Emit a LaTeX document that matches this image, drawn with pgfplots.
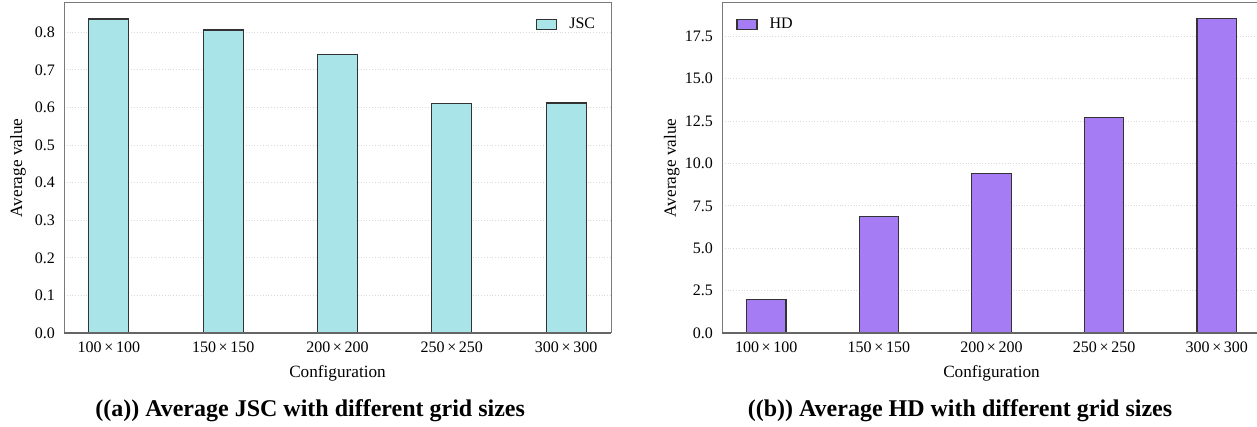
\documentclass[border=0pt]{standalone}
\usepackage{pgfplots}
\pgfplotsset{compat=1.18}
\usepackage{fontspec}
\setmainfont{Liberation Serif}
\definecolor{jsc}{HTML}{A8E4E8}
\definecolor{hd}{HTML}{A67CF5}
\definecolor{spine}{HTML}{7A7A7A}
\pgfplotsset{
  mybar/.style={
    scale only axis,
    clip=false,
    anchor=south west,
    height=165pt,
    ybar,
    bar width=0.35,
    xmin=-0.3925, xmax=4.3925,
    ymin=0,
    xtick={0,1,2,3,4},
    xticklabels={100\,×\,100,150\,×\,150,200\,×\,200,250\,×\,250,300\,×\,300},
    major tick length=0pt,
    tick label style={font=\fontsize{8}{9}\selectfont},
    /pgf/number format/assume math mode=true,
    /pgf/number format/fixed,
    /pgf/number format/fixed zerofill,
    xticklabel style={yshift=-1pt},
    yticklabel style={xshift=-1pt},
    label style={font=\fontsize{8.6}{10}\selectfont},
    xlabel={Configuration},
    ylabel={Average value},
    xlabel style={at={(axis description cs:0.5,-0.121)}, anchor=center},
    ymajorgrids,
    grid style={densely dotted, gray!30, line width=0.4pt},
    axis line style={spine, line width=0.5pt},
    legend style={draw=none, fill=none, font=\fontsize{8}{9}\selectfont, legend cell align=left},
    legend image code/.code={\draw[#1] (0pt,-2.5pt) rectangle (10pt,2.5pt); \path (14pt,0pt);},
  }
}
\begin{document}
\begin{tikzpicture}
\path[use as bounding box] (0,0) rectangle (628.5pt,213.5pt);
\begin{axis}[mybar,
  at={(32pt,47pt)}, width=273.5pt,
  ymax=0.8778,
  ytick={0,0.1,...,0.8},
  yticklabel style={/pgf/number format/precision=1},
  ylabel style={at={(axis description cs:-0.084,0.5)}, anchor=center},
  legend style={at={(axis description cs:0.99,0.98)}, anchor=north east},
  ]
\addplot[fill=jsc, draw=black!80, line width=0.6pt] coordinates {(0,0.835) (1,0.806) (2,0.740) (3,0.610) (4,0.612)};
\addlegendentry{JSC}
\draw[line width=1.3pt, black!60] (rel axis cs:0,0) -- (rel axis cs:1,0);
\node[font=\bfseries\fontsize{12}{14}\selectfont] at (rel axis cs:0.450,-0.236) {((a)) Average JSC with different grid sizes};
\end{axis}
\begin{axis}[mybar,
  at={(361pt,47pt)}, width=269.5pt,
  ymax=19.47,
  ytick={0,2.5,...,17.5},
  yticklabel style={/pgf/number format/precision=1},
  ylabel style={at={(axis description cs:-0.093,0.5)}, anchor=center},
  legend style={at={(axis description cs:0.015,0.98)}, anchor=north west},
  ]
\addplot[fill=hd, draw=black!80, line width=0.6pt] coordinates {(0,1.96) (1,6.87) (2,9.40) (3,12.70) (4,18.54)};
\addlegendentry{HD}
\draw[line width=1.3pt, black!60] (rel axis cs:0,0) -- (rel axis cs:1,0);
\node[font=\bfseries\fontsize{12}{14}\selectfont] at (rel axis cs:0.4416,-0.236) {((b)) Average HD with different grid sizes};
\end{axis}
\end{tikzpicture}
\end{document}
